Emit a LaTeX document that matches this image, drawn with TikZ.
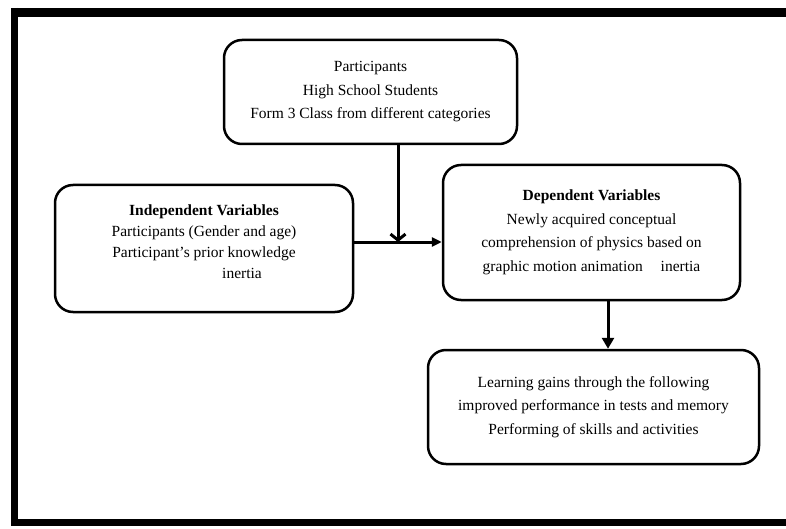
\documentclass[tikz,border=0pt]{standalone}
\usepackage{fontspec}
\setmainfont{Liberation Serif}
\usetikzlibrary{arrows.meta}
\tikzset{
var box/.style={draw, line width=2.5pt, rounded corners=18pt, align=center, inner sep=0pt,
  font=\fontsize{15.5}{23.5}\selectfont},
flow arrow/.style={line width=3pt}
}

\begin{document}
\begin{tikzpicture}[x=1pt,y=-1pt]
	\useasboundingbox (0,0) rectangle (786,529);
	% page frame
	\draw[line width=9pt] (11,12.5) -- (786,12.5);
	\draw[line width=7pt] (14.5,8) -- (14.5,522) -- (786,522);
	% boxes
	\node[var box, minimum width=293pt, minimum height=104pt] (part) at (370.5,92)
	{Participants\\ High School Students\\ Form 3 Class from different categories};
	\node[var box, minimum width=298pt, minimum height=127pt, font=\fontsize{15.5}{21}\selectfont] (indep) at (204,248.5)
	{\textbf{Independent Variables}\\ Participants (Gender and age)\\ Participant’s prior knowledge\\ \hspace*{76pt}inertia\\[-8pt]\mbox{}};
	\node[var box, minimum width=297pt, minimum height=135pt] (dep) at (591.5,232.5)
	{\textbf{Dependent Variables}\\ Newly acquired conceptual\\ comprehension of physics based on\\ graphic motion animation\hspace{14pt} inertia};
	\node[var box, minimum width=331pt, minimum height=114pt] (gains) at (593.5,407)
	{Learning gains through the following\\ improved performance in tests and memory\\ Performing of skills and activities};
	% arrows
	\coordinate (join) at (398,242);
	\coordinate (drop) at (608,0);
	\draw[flow arrow,-{Straight Barb[length=6pt,width=15pt]}] (part.south -| join) -- (join);
	\draw[flow arrow,-{Triangle[length=10pt,width=9pt]}] (indep.east |- join) -- (dep.west |- join);
	\draw[flow arrow,-{Triangle[length=11pt,width=12pt]}] (dep.south -| drop) -- (gains.north -| drop);
\end{tikzpicture}
\end{document}
